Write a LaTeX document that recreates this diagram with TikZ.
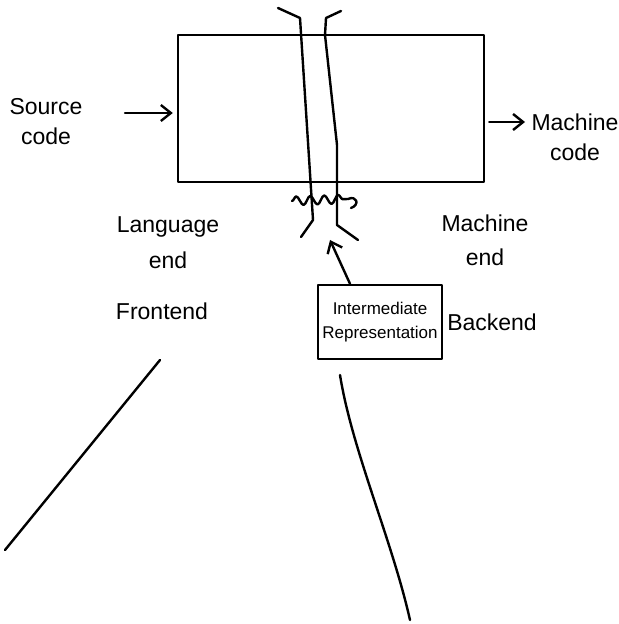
\documentclass[tikz,border=0pt]{standalone}
\usepackage{fontspec}
\setmainfont{Liberation Sans}
\usetikzlibrary{arrows.meta,decorations.pathmorphing}

\begin{document}
\begin{tikzpicture}[
    x=0.5pt, y=-0.5pt,
    line width=1.2pt, line cap=round, line join=round,
    every node/.style={draw=none, inner sep=0pt, align=center,
                       font=\fontsize{11.5}{15}\selectfont},
    arr/.style={-{Straight Barb[length=5pt,width=8pt]}},
    stage/.style={draw, minimum width=153pt, minimum height=73.5pt},
    irbox/.style={draw, inner sep=1pt, minimum width=62pt, minimum height=37pt,
                  font=\fontsize{8.5}{12}\selectfont}
]
\useasboundingbox (0,0) rectangle (618,624);

% compiler box and the pipe through it
\node[stage] (compiler) at (331,108.5) {};
\draw (278,8) -- (300,18) -- (313,220) -- (301,237);
\draw (341,11) -- (326,18) -- (325,35) .. controls (331,90) .. (337,145)
      -- (337,225) -- (358,240);
\draw[decorate, decoration={snake, amplitude=2.2pt, segment length=7pt}]
      (292,201) -- (348,199);
\draw (348,199) .. controls (357,195) and (360,205) .. (351,208);

% inputs and outputs
\node (src) at (46,122) {Source\\code};
\node (mc) at (575,137) {Machine\\code};
\coordinate (srcin) at (125,113);
\coordinate (mcin) at (525,122);
\draw[arr] (srcin) -- ([xshift=-2pt]compiler.west |- srcin);
\draw[arr] ([xshift=2pt]compiler.east |- mcin) -- (mcin);

% the two ends
\node (lang) at (168,243) {Language\\[3pt]end};
\node (mach) at (485,240) {Machine\\[2pt]end};
\node (front) at (162,311) {Frontend};
\node (back) at (492,322) {Backend};

% intermediate representation
\node[irbox] (ir) at (380,322) {Intermediate\\Representation};
\coordinate (irout) at (330,240);
\draw[arr] ([xshift=-15pt]ir.north) -- (irout);

% lines running off the page
\coordinate (fa) at (160,360);
\coordinate (fb) at (5,550);
\coordinate (ba) at (340,375);
\coordinate (bb) at (410,620);
\draw (fa) -- (fb);
\draw (ba) .. controls (352,450) and (392,540) .. (bb);
\end{tikzpicture}
\end{document}
